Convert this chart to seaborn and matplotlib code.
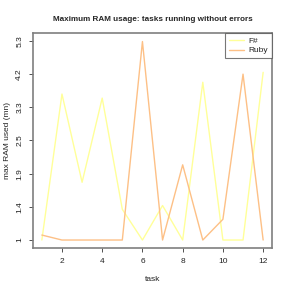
import numpy as np
import pandas as pd
import matplotlib
matplotlib.use("Agg")
import matplotlib.pyplot as plt
import seaborn as sns

tasks = list(range(1, 13))
fsharp = [1.0, 3.66, 1.77, 3.55, 1.37, 1.0, 1.42, 1.0, 3.98, 1.0, 1.0, 4.26]
ruby = [1.06, 1.0, 1.0, 1.0, 1.0, 5.28, 1.0, 2.06, 1.0, 1.25, 4.2, 1.0]
ytick_vals = [1, 1.4, 1.9, 2.5, 3.3, 4.2, 5.3]
ytick_labels = ["1", "1.4", "1.9", "2.5", "3.3", "4.2", "5.3"]
xtick_vals = [2, 4, 6, 8, 10, 12]
series_names = ["F#", "Ruby"]
colors = ["#FFFF99", "#FDC086"]

sns.set_style("white")
plt.rcParams['font.family'] = ['Liberation Sans', 'DejaVu Sans']

df = pd.DataFrame({
    "task": tasks * 2,
    "ram": fsharp + ruby,
    "lang": [series_names[0]] * len(tasks) + [series_names[1]] * len(tasks),
})

lv = np.arange(len(ytick_vals), dtype=float)
tv = np.array(ytick_vals, dtype=float)

def fwd(v):
    v = np.asarray(v, dtype=float)
    slope_lo = 1.0 / (tv[1] - tv[0])
    slope_hi = 1.0 / (tv[-1] - tv[-2])
    out = np.interp(v, tv, lv)
    out = np.where(v < tv[0], (v - tv[0]) * slope_lo, out)
    out = np.where(v > tv[-1], lv[-1] + (v - tv[-1]) * slope_hi, out)
    return out

def inv(y):
    y = np.asarray(y, dtype=float)
    out = np.interp(y, lv, tv)
    out = np.where(y < 0, tv[0] + y * (tv[1] - tv[0]), out)
    out = np.where(y > lv[-1], tv[-1] + (y - lv[-1]) * (tv[-1] - tv[-2]), out)
    return out

fig = plt.figure(figsize=(2.91, 2.91), dpi=100)
ax = fig.add_axes([0.1134, 0.1478, 0.8213, 0.7388])
ax.set_yscale("function", functions=(fwd, inv))

sns.lineplot(data=df, x="task", y="ram", hue="lang", palette=colors,
             linewidth=1.0, ax=ax, legend=True)

ax.set_xlim(1 - 0.44, 12 + 0.44)
ax.set_ylim(inv(-0.24), inv(6.24))
ax.set_xticks(xtick_vals)
ax.set_xticklabels([str(v) for v in xtick_vals])
ax.set_yticks(ytick_vals)
ax.set_yticklabels(ytick_labels, rotation=90, va="center")
ax.minorticks_off()
ax.tick_params(axis="both", which="both", labelsize=6, length=3, width=0.6,
               color="#333333", labelcolor="#222222", pad=4, direction="out",
               bottom=True, left=True)
for s in ax.spines.values():
    s.set_color("#7f7f7f")
    s.set_linewidth(1.2)

ax.set_xlabel("task", fontsize=6, color="#222222", labelpad=8)
ax.set_ylabel("max RAM used (mn)", fontsize=6, color="#222222", labelpad=4)
fig.suptitle("Maximum RAM usage: tasks running without errors", fontsize=5.9,
             fontweight="bold", x=0.525, y=0.945)

leg = ax.legend(loc="upper right", fontsize=6, frameon=True, fancybox=False,
                edgecolor="#555555", borderaxespad=0.0, handlelength=1.8,
                labelspacing=0.25, borderpad=0.45, handletextpad=0.6)
leg.get_frame().set_linewidth(0.8)
leg.set_title(None)

fig.savefig("out.png", dpi=100)
